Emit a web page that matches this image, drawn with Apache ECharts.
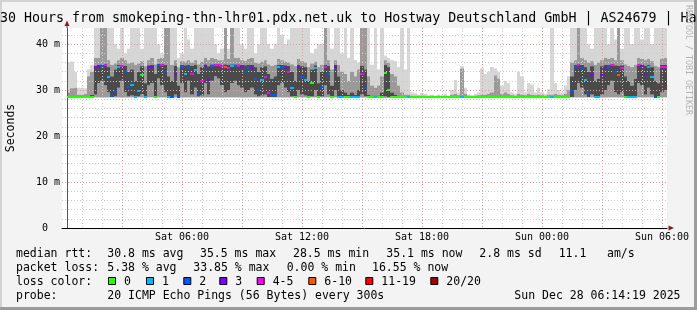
<!DOCTYPE html>
<html>
<head>
<meta charset="utf-8">
<script src="https://cdn.jsdelivr.net/npm/echarts@6.0.0/dist/echarts.min.js"></script>
<style>
html,body{margin:0;padding:0;background:#f3f3f3;overflow:hidden}
#c{width:697px;height:310px}
</style>
</head>
<body>
<div id="c"></div>
<script>
// samples: 10-minute steps, hours since Sat 00:00, first sample Sat 00:15
const startHour = 0.25;
const stepHour = 1 / 6;

const median = [
28.5,28.5,28.5,28.5,28.5,28.5,28.5,28.5,35.0,35.2,
35.3,35.4,32.9,28.7,29.8,35.1,35.2,34.0,30.6,31.0,
28.6,29.8,33.2,28.6,35.0,35.1,28.6,35.4,35.4,34.2,
28.6,28.6,33.6,28.6,35.1,33.6,35.1,33.6,34.4,29.2,
32.0,35.2,32.2,35.3,35.4,35.4,35.3,35.0,34.8,35.3,
35.3,35.2,35.1,34.0,34.7,34.7,32.5,30.0,32.2,32.9,
29.3,28.9,28.9,35.1,35.1,34.7,34.0,30.4,28.6,35.1,
32.9,32.2,28.6,31.5,34.7,28.6,30.7,35.1,33.6,28.6,
35.1,28.6,28.6,28.6,28.6,28.6,28.6,28.6,33.6,30.4,
28.5,28.5,28.5,28.5,28.5,33.7,30.0,28.5,28.5,28.5,
28.5,28.5,28.5,28.5,28.5,28.5,28.5,28.5,28.5,28.5,
28.5,28.5,28.5,28.5,28.5,28.5,28.5,28.5,28.5,28.5,
28.5,28.5,28.5,28.5,28.5,28.5,28.5,28.5,28.5,28.5,
28.5,28.5,28.5,28.5,28.5,28.5,28.5,28.5,28.5,28.5,
28.5,28.5,28.5,28.5,28.5,28.5,28.5,28.5,28.5,28.5,
28.5,29.9,35.1,35.4,34.7,32.2,29.3,33.2,28.6,28.6,
33.2,34.7,35.1,35.4,34.0,33.2,34.7,28.6,28.6,28.6,
28.6,35.4,35.3,33.6,35.1,32.9,28.6,28.6,35.1,35.1
];

const lossCount = [
0,0,0,0,0,0,0,0,3,3,
2,4,1,2,2,1,4,2,2,1,
1,1,0,1,3,3,0,2,4,2,
1,2,3,2,2,1,2,4,1,2,
4,3,3,2,4,4,4,7,5,1,
2,4,3,2,2,3,2,2,1,4,
4,2,2,1,2,3,4,1,0,3,
2,1,0,0,1,0,2,4,2,0,
3,1,1,0,0,1,1,1,4,2,
0,0,1,0,0,0,0,0,0,0,
0,0,1,0,0,0,0,0,0,0,
0,0,0,0,0,0,0,0,1,0,
0,0,0,0,0,0,0,0,0,0,
0,0,0,0,0,0,0,0,0,0,
0,0,0,0,0,1,0,0,0,0,
0,2,2,4,2,1,2,3,1,1,
3,3,2,4,2,7,4,0,1,1,
1,4,3,3,1,1,2,0,4,4
];

const smokeMin = [
28.4,28.4,28.4,28.4,28.4,28.4,28.4,28.4,28.4,28.4,
28.4,28.4,28.4,28.4,28.4,28.4,28.4,28.4,28.4,28.4,
28.4,28.4,28.4,28.4,28.4,28.4,28.4,28.4,28.4,28.4,
28.4,28.4,28.4,28.4,28.4,28.4,28.4,28.4,28.4,28.4,
28.4,28.4,28.4,28.4,28.4,28.4,28.4,28.4,28.4,28.4,
28.4,28.4,28.4,28.4,28.4,28.4,28.4,28.4,28.4,28.4,
28.4,28.4,28.4,28.4,28.4,28.4,28.4,28.4,28.4,28.4,
28.4,28.4,28.4,28.4,28.4,28.4,28.4,28.4,28.4,28.4,
28.4,28.4,28.4,28.4,28.4,28.4,28.4,28.4,28.4,28.4,
28.3,28.3,28.3,28.3,28.3,28.3,28.3,28.3,28.3,28.3,
28.3,28.3,28.3,28.3,28.3,28.3,28.3,28.3,28.3,28.3,
28.3,28.3,28.3,28.3,28.3,28.3,28.3,28.3,28.3,28.3,
28.3,28.3,28.3,28.3,28.3,28.3,28.3,28.3,28.3,28.3,
28.3,28.3,28.3,28.3,28.3,28.3,28.3,28.3,28.3,28.3,
28.3,28.3,28.3,28.3,28.3,28.3,28.3,28.3,28.3,28.3,
28.3,28.4,28.4,28.4,28.4,28.4,28.4,28.4,28.4,28.4,
28.4,28.4,28.4,28.4,28.4,28.4,28.4,28.4,28.4,28.4,
28.4,28.4,28.4,28.4,28.4,28.4,28.4,28.4,28.4,28.4
];

const smokeQ1 = [
28.5,28.5,28.5,28.5,28.5,28.5,28.5,28.5,29.0,31.5,
32.0,31.0,29.5,28.5,28.6,30.5,32.0,29.5,28.6,28.8,
28.5,28.6,29.0,28.5,31.0,31.5,28.5,32.5,31.0,29.5,
28.5,28.5,29.0,28.5,31.5,29.5,32.0,29.0,30.5,28.6,
28.8,31.5,29.0,32.0,33.0,32.5,31.0,29.5,30.0,31.5,
32.0,31.0,30.5,29.5,30.0,30.5,29.0,28.6,28.8,29.0,
28.5,28.5,28.5,31.0,31.5,30.5,29.5,28.6,28.5,30.0,
29.0,28.8,28.5,28.6,30.0,28.5,28.6,31.0,29.0,28.5,
30.0,28.5,28.5,28.5,28.5,28.5,28.5,28.5,29.0,28.6,
28.4,28.4,28.4,28.4,28.4,28.6,28.5,28.4,28.4,28.4,
28.4,28.4,28.4,28.4,28.4,28.4,28.4,28.4,28.4,28.4,
28.4,28.4,28.4,28.4,28.4,28.4,28.4,28.4,28.4,28.4,
28.4,28.4,28.4,28.4,28.4,28.4,28.4,28.4,28.4,28.4,
28.4,28.4,28.4,28.4,28.4,28.4,28.4,28.4,28.4,28.4,
28.4,28.4,28.4,28.4,28.4,28.4,28.4,28.4,28.4,28.4,
28.4,28.5,30.0,31.5,30.5,29.0,28.5,29.0,28.5,28.5,
29.0,30.0,31.0,32.0,29.5,29.0,29.5,28.5,28.5,28.5,
28.5,31.5,31.0,29.0,30.5,29.0,28.5,28.5,29.5,30.0
];

const smokeQ3 = [
28.6,28.6,28.6,28.6,28.6,28.6,28.7,29.0,35.3,35.5,
35.6,35.6,35.0,33.0,34.5,35.5,35.5,35.3,34.0,34.5,
32.0,34.0,35.2,31.5,35.4,35.5,33.5,35.6,35.7,35.5,
33.0,32.0,35.3,31.0,35.5,35.4,35.5,35.3,35.5,33.5,
35.0,35.6,35.2,35.6,35.7,35.7,35.6,35.6,35.5,35.6,
35.6,35.6,35.5,35.4,35.5,35.5,35.0,34.0,35.0,35.2,
33.5,32.5,33.0,35.5,35.5,35.4,35.3,34.0,32.0,35.5,
35.2,35.0,32.0,34.5,35.4,31.5,34.0,35.5,35.3,31.0,
35.5,33.0,30.0,29.5,29.0,29.5,29.0,30.0,35.3,34.5,
29.0,28.8,28.8,28.8,29.5,35.5,35.0,29.5,29.0,28.8,
28.6,28.6,28.6,28.6,28.6,28.6,28.6,28.6,28.6,28.6,
28.6,28.6,28.6,28.6,28.6,28.6,28.6,28.6,28.6,28.6,
28.6,28.6,28.6,28.6,28.6,28.6,28.6,28.6,28.6,28.6,
28.6,28.6,28.6,28.6,28.6,28.6,28.6,28.6,28.6,28.6,
28.6,28.6,28.6,28.6,28.6,28.6,28.6,28.6,28.6,28.6,
28.6,33.0,35.5,35.7,35.5,35.0,34.0,35.2,32.0,32.5,
35.2,35.5,35.5,35.7,35.4,35.3,35.4,33.0,32.0,31.0,
32.5,35.7,35.6,35.3,35.5,35.0,32.0,31.5,35.5,35.5
];

const smokeP90 = [
29.5,30.4,30.5,29.0,29.0,29.2,33.0,34.0,37.0,37.0,
45,45,36.5,35.5,35.8,36.5,37.0,36.5,35.8,36.0,
35.5,35.8,36.3,35.2,36.5,37.0,35.6,36.8,37.0,45,
45,35.5,36.5,35.0,36.3,36.2,36.5,36.0,36.5,35.6,
36.2,37.0,36.5,37.0,36.8,36.5,36.5,45,36.8,45,
37.0,37.0,36.5,36.3,36.8,37.0,36.0,35.8,36.2,36.5,
35.6,35.3,35.5,36.8,36.5,36.2,36.0,35.6,35.2,36.8,
36.3,36.0,35.0,35.8,36.2,35.0,35.5,45,36.5,34.5,
36.5,35.5,34.0,33.5,32.0,34.0,33.0,34.5,45,45,
33.0,31.0,30.5,31.0,33.0,36.5,36.0,33.5,33.0,31.0,
29.5,29.0,29.0,28.8,28.8,28.8,28.8,28.8,28.7,28.8,
28.7,28.8,28.7,28.8,28.7,29.0,29.2,28.9,34.7,29.2,
28.8,28.7,28.8,28.9,29.0,29.0,29.2,29.5,33.2,32.5,
29.2,29.5,29.2,28.9,28.8,29.2,29.0,28.9,29.2,29.0,
28.9,29.0,28.9,28.8,29.0,29.0,29.2,29.0,28.9,29.2,
30.0,36.0,36.5,45,37.0,36.5,36.0,36.3,35.5,36.0,
36.5,37.0,36.8,37.0,36.5,45,36.5,35.6,35.3,35.0,
35.5,37.0,36.8,36.5,36.8,36.3,35.3,35.0,36.8,37.0
];

const smokeMax = [
36.0,36.2,34.0,30.5,30.5,30.4,34.5,35.5,45,45,
45,45,45,45,40,39,45,38,39,45,
45,45,39,45,45,45,45,40,38,45,
45,45,45,37,38,45,41,39,45,45,
45,45,45,45,40,38,39,45,39,45,
45,45,40,39,45,45,38,40,45,45,
40,39,40,45,42,40,41,45,45,45,
45,45,45,38,39,40,40,45,45,39,
45,45,38,45,37,45,36.5,36,45,45,
45,35.5,45,34.5,45,37.5,37.0,36.5,36.3,35.0,
45,34.5,45,29.5,29.3,29.0,29.4,29.2,28.9,29.0,
28.8,29.0,28.9,29.1,28.8,30.0,32.2,29.5,35.2,30.5,
29.0,28.9,29.2,29.5,34.7,33.5,34.0,35.0,34.7,34.0,
31.0,32.0,31.5,29.5,29.2,34.0,33.0,29.5,31.5,31.2,
29.5,30.5,29.5,29.2,30.2,45,31.5,30.0,29.5,31.0,
33.0,45,45,45,45,45,40,39,45,45,
45,45,40,45,41,45,39,45,45,40,
45,45,41,45,45,40,45,45,45,45
];

const yTickValues = [0, 10, 20, 30, 40];
const yTickLabels = ['0  ', '10 m', '20 m', '30 m', '40 m'];
const xTickHours = [6, 12, 18, 24, 30];
const xTickLabels = ['Sat 06:00', 'Sat 12:00', 'Sat 18:00', 'Sun 00:00', 'Sun 06:00'];

const lossLabels = ['0', '1', '2', '3', '4-5', '6-10', '11-19', '20/20'];
const lossUpper  = [0, 1, 2, 3, 5, 10, 19, 20];
const lossColors = ['#26ff00', '#00b8ff', '#0059ff', '#7e00ff', '#ff00ff', '#ff5500', '#ff0000', '#a10000'];

function lossColor(n) {
  for (let k = 0; k < lossUpper.length; k++) if (n <= lossUpper[k]) return lossColors[k];
  return lossColors[lossColors.length - 1];
}

const FONT = "'DejaVu Sans Mono', monospace";
const yMax = 43.5;
const xMax = 30.25;
const LIGHT = '#d6d6d6', MID = '#9a9a9a', DARK = '#4a4a4a';
const GRID_MINOR = '#cdcdcd', GRID_MAJOR = '#eb9898';

const smokeData = median.map((_, i) => [startHour + i * stepHour, smokeMin[i], smokeQ1[i], smokeQ3[i], smokeP90[i], smokeMax[i]]);
const medData = median.map((m, i) => [startHour + i * stepHour, m, lossCount[i]]);

const chart = echarts.init(document.getElementById('c'), null, { renderer: 'canvas', width: 697, height: 310 });

function axisX(interval, color, extra) {
  return Object.assign({
    type: 'value', min: 0, max: xMax, interval: interval, position: 'bottom', z: 2,
    axisLine: { show: false }, axisTick: { show: false }, axisLabel: { show: false },
    splitLine: { show: !!color, showMinLine: false, showMaxLine: false, lineStyle: { color: color || '#000', width: 1, type: [1, 2] } }
  }, extra || {});
}
function axisY(interval, color, extra) {
  return Object.assign({
    type: 'value', min: 0, max: yMax, interval: interval, position: 'left', offset: -5, z: 2,
    axisLine: { show: false }, axisTick: { show: false }, axisLabel: { show: false },
    splitLine: { show: true, showMinLine: false, showMaxLine: false, lineStyle: { color: color, width: 1, type: [1, 2] } }
  }, extra || {});
}

const statRows = [
  { y: 254, items: [[16, 'median rtt:'], [107.3, '30.8 ms avg'], [200, '35.5 ms max'], [293, '28.5 ms min'], [386.3, '35.1 ms now'], [479.3, '2.8 ms sd'], [558.7, '11.1'], [607, 'am/s']] },
  { y: 268.3, items: [[16, 'packet loss:'], [107.3, '5.38 % avg'], [193.3, '33.85 % max'], [286.7, '0.00 % min'], [372, '16.55 % now']] },
  { y: 281.7, items: [[16, 'loss color:']] },
  { y: 296, items: [[16, 'probe:'], [107.3, '20 ICMP Echo Pings (56 Bytes) every 300s']] }
];
const boxX = [108, 146, 183.3, 219.3, 256.7, 308.3, 365.3, 430.3];

const graphics = [];
// frame
graphics.push({ type: 'rect', shape: { x: 0, y: 0, width: 697, height: 2 }, style: { fill: '#d2d2d2' }, silent: true });
graphics.push({ type: 'rect', shape: { x: 0, y: 0, width: 2, height: 310 }, style: { fill: '#d2d2d2' }, silent: true });
graphics.push({ type: 'rect', shape: { x: 694, y: 0, width: 3, height: 310 }, style: { fill: '#9c9c9c' }, silent: true });
graphics.push({ type: 'rect', shape: { x: 0, y: 307, width: 697, height: 3 }, style: { fill: '#9c9c9c' }, silent: true });
// title
graphics.push({ type: 'text', x: 0, y: 18.5, silent: true, style: { text: '30 Hours from smokeping-thn-lhr01.pdx.net.uk to Hostway Deutschland GmbH | AS24679 | Ha', font: '13.3px ' + FONT, fill: '#000', align: 'left', verticalAlign: 'middle' } });
// y name
graphics.push({ type: 'text', x: 11.5, y: 128, rotation: Math.PI / 2, silent: true, style: { text: 'Seconds', font: '11.5px ' + FONT, fill: '#000', align: 'center', verticalAlign: 'middle' } });
// watermark
graphics.push({ type: 'text', x: 688, y: 60, rotation: -Math.PI / 2, silent: true, style: { text: 'RRDTOOL / TOBI OETIKER', font: '8.3px ' + FONT, fill: '#b4b4b4', align: 'center', verticalAlign: 'middle' } });
// arrows
graphics.push({ type: 'polygon', shape: { points: [[64.5, 26], [69.5, 26], [67, 20.5]] }, style: { fill: '#8b1a1a' }, silent: true, z: 10 });
graphics.push({ type: 'line', shape: { x1: 67, y1: 25, x2: 67, y2: 28 }, style: { stroke: '#555', lineWidth: 1 }, silent: true });
graphics.push({ type: 'polygon', shape: { points: [[668.5, 225.5], [668.5, 230.5], [674, 228]] }, style: { fill: '#8b1a1a' }, silent: true, z: 10 });
// stat rows
statRows.forEach(r => r.items.forEach(it => graphics.push({ type: 'text', x: it[0], y: r.y, silent: true, style: { text: it[1], font: '11.5px ' + FONT, fill: '#000', align: 'left', verticalAlign: 'middle' } })));
graphics.push({ type: 'text', x: 680.5, y: 296, silent: true, style: { text: 'Sun Dec 28 06:14:19 2025', font: '11.5px ' + FONT, fill: '#000', align: 'right', verticalAlign: 'middle' } });
// loss legend
lossLabels.forEach((lab, k) => {
  graphics.push({ type: 'rect', shape: { x: boxX[k] + 0.5, y: 277.5, width: 7, height: 7 }, style: { fill: lossColors[k], stroke: '#000', lineWidth: 1 }, silent: true });
  graphics.push({ type: 'text', x: boxX[k] + 16, y: 281.7, silent: true, style: { text: lab, font: '11.5px ' + FONT, fill: '#000', align: 'left', verticalAlign: 'middle' } });
});

const option = {
  animation: false,
  backgroundColor: '#f3f3f3',
  grid: { left: 62, right: 30, top: 28, bottom: 82, show: true, backgroundColor: '#ffffff', borderWidth: 0 },
  xAxis: [
    axisX(1, GRID_MINOR, { axisLine: { show: true, onZero: false, lineStyle: { color: '#000', width: 1 } } }),
    axisX(3, GRID_MAJOR),
    axisX(6, null, {
      axisLabel: {
        show: true, margin: 4, fontFamily: FONT, fontSize: 10, color: '#000', showMinLabel: false, showMaxLabel: false,
        formatter: v => { const k = xTickHours.indexOf(v); return k >= 0 ? xTickLabels[k] : ''; }
      }
    })
  ],
  yAxis: [
    axisY(2, GRID_MINOR, { axisLine: { show: true, lineStyle: { color: '#555', width: 1 } } }),
    axisY(10, GRID_MAJOR, {
      axisLabel: {
        show: true, margin: 7, fontFamily: FONT, fontSize: 10, color: '#000', showMaxLabel: false,
        formatter: v => { const k = yTickValues.indexOf(v); return k >= 0 ? yTickLabels[k] : ''; }
      }
    })
  ],
  graphic: graphics,
  series: [
    {
      type: 'custom', xAxisIndex: 0, yAxisIndex: 0, z: 1, silent: true,
      data: smokeData, encode: { x: 0, y: [1, 2, 3, 4, 5] },
      renderItem: function (params, api) {
        const cs = params.coordSys;
        const t = api.value(0);
        const x0 = Math.round(api.coord([t, 0])[0]);
        const x1 = Math.round(api.coord([t + stepHour, 0])[0]);
        const py = v => Math.max(cs.y, api.coord([t, Math.min(v, yMax)])[1]);
        const band = (a, b, fill) => {
          const ya = py(a), yb = py(b);
          return { type: 'rect', shape: { x: x0, y: yb, width: x1 - x0, height: Math.max(0, ya - yb) }, style: { fill: fill } };
        };
        return {
          type: 'group', children: [
            band(api.value(4), api.value(5), LIGHT),
            band(api.value(1), api.value(2), MID),
            band(api.value(3), api.value(4), MID),
            band(api.value(2), api.value(3), DARK)
          ]
        };
      }
    },
    {
      type: 'custom', xAxisIndex: 0, yAxisIndex: 0, z: 5, silent: true,
      data: medData, encode: { x: 0, y: 1 },
      renderItem: function (params, api) {
        const t = api.value(0);
        const x0 = Math.round(api.coord([t, 0])[0]);
        const x1 = Math.round(api.coord([t + stepHour, 0])[0]);
        const yc = api.coord([t, api.value(1)])[1];
        return { type: 'rect', shape: { x: x0, y: Math.round(yc - 1), width: x1 - x0, height: 2 }, style: { fill: lossColor(api.value(2)) } };
      }
    }
  ]
};
chart.setOption(option);
</script>
</body>
</html>
